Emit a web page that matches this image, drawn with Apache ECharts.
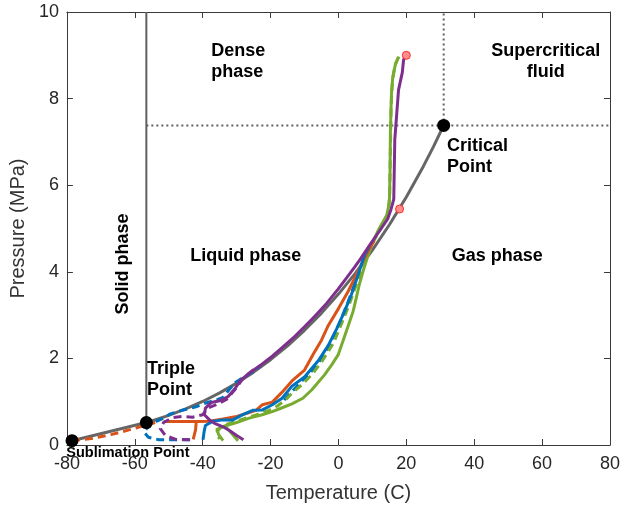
<!DOCTYPE html>
<html>
<head>
<meta charset="utf-8">
<script src="https://cdn.jsdelivr.net/npm/echarts@6/dist/echarts.min.js"></script>
<style>
  html, body { margin: 0; padding: 0; background: #fff; }
  #chart { width: 623px; height: 508px; }
</style>
</head>
<body>
<div id="chart"></div>
<script>
// CO2 phase boundaries (temperature in C, pressure in MPa)
const satT = [-78.5, -56.6, -55, -50, -45, -40, -35, -30, -25, -20, -15, -10, -5, 0, 5, 10, 15, 20, 25, 28, 31];
const satP = [0.10, 0.518, 0.555, 0.683, 0.833, 1.005, 1.203, 1.428, 1.683, 1.970, 2.290, 2.649, 3.046, 3.485, 3.969, 4.502, 5.086, 5.729, 6.434, 6.89, 7.38];
const triple = [-56.6, 0.518];
const critical = [31.0, 7.38];
const sublimation = [-78.5, 0.10];
const keyPoints = [sublimation, triple, critical];
const initialStates = [[18, 5.45], [20, 9.0]];

// Measured / simulated trajectories [T, P]
const purpleSolid = [[19.8,8.99],[19.2,8.9],[18.8,8.6],[17.7,8.2],[16.6,7.06],[16.3,5.68],[15.4,5.42],[14.5,5.22],[12,4.93],[9.6,4.66],[6.5,4.30],[4.7,4.10],[2,3.82],[-0.1,3.60],[-3.5,3.27],[-6.9,2.98],[-10,2.73],[-13,2.50],[-16.6,2.25],[-20,2.02],[-23,1.84],[-26.3,1.66],[-29,1.48],[-30.5,1.30],[-32.5,1.12],[-35,1.02],[-37.5,0.98],[-39.2,0.85],[-39.5,0.70],[-38,0.58],[-36.5,0.50],[-34,0.42],[-32,0.33],[-30,0.22],[-28,0.12]];
const purpleDashed = [[-25,1.74],[-28,1.55],[-30.5,1.28],[-33,1.05],[-36,0.93],[-38.5,0.85],[-40,0.7],[-43,0.64],[-46,0.66],[-49,0.63],[-51.5,0.52],[-52.5,0.38],[-51,0.22],[-48,0.13],[-43,0.12]];
const greenSolid = [[17.8,8.97],[16.8,8.8],[16.0,8.5],[15.6,8.1],[15.3,7.2],[15.2,6.3],[15.0,5.6],[14.2,5.3],[12,5.0],[10.1,4.69],[8.6,4.35],[7.2,4.0],[6.1,3.69],[5.2,3.38],[4.3,3.08],[2.3,2.62],[-0.1,2.08],[-2,1.85],[-4.1,1.62],[-7.9,1.27],[-10.5,1.08],[-13.7,0.95],[-16.6,0.86],[-19.5,0.77],[-22.5,0.70],[-26.3,0.62],[-30,0.52],[-33.5,0.44],[-35.8,0.36],[-35.3,0.24],[-34,0.1]];
const greenFoot = [[-33.5,0.44],[-31.8,0.3],[-29.6,0.1]];
const greenDashed = [[17.6,8.95],[16.6,8.75],[15.9,8.4],[15.5,7.8],[15.3,6.8],[15.1,5.8],[14.6,5.35],[12.5,5.02],[10.2,4.68],[8.4,4.38],[6.8,4.05],[5.0,3.65],[3.2,3.25],[1.0,2.82],[-1.5,2.35],[-4.95,1.92],[-7.9,1.62],[-10.8,1.39],[-13.7,1.2],[-15.6,1.04],[-18,0.9],[-20.5,0.8],[-24,0.7],[-28,0.6],[-31,0.53],[-33.5,0.46],[-35,0.38],[-36,0.28],[-35,0.14]];
const orangeSolid = [[-41.9,0.54],[-38,0.55],[-34,0.6],[-30,0.66],[-27,0.73],[-24.3,0.8],[-22.4,0.93],[-19.5,0.99],[-16.6,1.22],[-13.7,1.48],[-10,1.73],[-7.4,2.10],[-5,2.42],[-3,2.76],[0,3.15],[2.8,3.54],[5.7,4.0],[7.6,4.3],[9,4.52],[10.5,4.72]];
const orangeFoot = [[-51.5,0.54],[-41.9,0.54],[-42.1,0.35],[-42.8,0.13]];
const orangeDashed = [[-78.5,0.10],[-72.8,0.15],[-67,0.24],[-61.2,0.36],[-56.6,0.46],[-54,0.52]];
const blueSolid = [[-39.9,0.12],[-39.6,0.3],[-39.2,0.45],[-37,0.55],[-34,0.58],[-31.1,0.58],[-28.2,0.70],[-25.3,0.80],[-22.4,0.81],[-19.5,0.93],[-16.6,1.08],[-13.7,1.36],[-10,1.57],[-5.9,1.95],[-3,2.3],[-0.6,2.67],[1.7,3.07],[3.8,3.47],[5.7,3.91],[7.6,4.37],[9,4.58]];
const blueDashedA = [[-43.7,0.12],[-47.7,0.12],[-52.9,0.12],[-56,0.18],[-57.3,0.3],[-55.5,0.48],[-51.5,0.62],[-49.5,0.72],[-45.7,0.81],[-42,0.88],[-39.9,0.95],[-36,1.04],[-34,1.1],[-32,1.3],[-30.3,1.45],[-26.3,1.64],[-23,1.82]];
const blueDashedB = [[-16,1.04],[-12,1.38],[-8,1.7],[-4.5,2.05],[-2,2.42],[0.5,2.85],[2.8,3.3],[4.6,3.68],[6.4,4.06],[8,4.42]];

// Region annotations: text, anchor T, anchor P
const noteText = ['Dense\nphase', 'Supercritical\nfluid', 'Critical\nPoint', 'Solid phase', 'Liquid phase', 'Gas phase', 'Triple\nPoint', 'Sublimation Point'];
const noteT = [-37.5, 61.1, 32, -63.4, -27.3, 46.8, -56.4, -80.2];
const noteP = [8.85, 8.85, 6.67, 4.18, 4.37, 4.37, 1.52, -0.19];

const xTicks = { min: -80, max: 80, interval: 20 };
const yTicks = { min: 0, max: 10, interval: 2 };

const BLUE = '#0072BD', ORANGE = '#D95319', GREEN = '#77AC30', PURPLE = '#7E2F8E';
const FONT = '"Liberation Sans", Arial, Helvetica, sans-serif';

function path(data, color, dashed, width, z) {
  return {
    type: 'line', data: data, symbol: 'none', showSymbol: false, z: z || 3,
    silent: true, animation: false,
    lineStyle: { color: color, width: width || 3, type: dashed ? [8, 5] : 'solid', cap: 'butt', join: 'round' }
  };
}

function dotted(data) {
  const s = path(data, '#606060', false, 2, 1);
  s.lineStyle.type = [2, 3];
  return s;
}

const satCurve = satT.map((t, i) => [t, satP[i]]);

const noteStyle = [
  { align: 'left' }, { align: 'center' }, { align: 'left' }, { align: 'center', rotate: 90 },
  { align: 'center' }, { align: 'center' }, { align: 'left' }, { align: 'left', fontSize: 14.5 }
];
const noteData = noteText.map((txt, i) => ({
  value: [noteT[i], noteP[i]],
  label: Object.assign({
    show: true, formatter: txt, position: 'inside', verticalAlign: 'middle',
    fontFamily: FONT, fontWeight: 'bold', fontSize: 18, lineHeight: 21, color: '#000'
  }, noteStyle[i])
}));

const axisBase = {
  type: 'value',
  axisLine: { show: true, onZero: false, lineStyle: { color: '#3a3a3a', width: 1 } },
  axisTick: { show: true, inside: true, length: 6, lineStyle: { color: '#3a3a3a' } },
  splitLine: { show: false }
};

const chart = echarts.init(document.getElementById('chart'), null, { renderer: 'canvas' });
chart.setOption({
  animation: false,
  backgroundColor: '#fff',
  grid: { left: 62, top: 12, width: 550, height: 435 },
  xAxis: [
    Object.assign({}, axisBase, xTicks, {
      position: 'bottom', name: 'Temperature (C)', nameLocation: 'middle', nameGap: 38,
      nameTextStyle: { fontFamily: FONT, fontSize: 20, color: '#333' },
      axisLabel: { fontFamily: FONT, fontSize: 18, color: '#262626', margin: 10 }
    }),
    Object.assign({}, axisBase, xTicks, { position: 'top', axisLabel: { show: false } })
  ],
  yAxis: [
    Object.assign({}, axisBase, yTicks, {
      position: 'left', name: 'Pressure (MPa)', nameLocation: 'middle', nameGap: 38,
      nameTextStyle: { fontFamily: FONT, fontSize: 20, color: '#333' },
      axisLabel: { fontFamily: FONT, fontSize: 18, color: '#262626', margin: 8 }
    }),
    Object.assign({}, axisBase, yTicks, { position: 'right', axisLabel: { show: false } })
  ],
  series: [
    // phase boundaries
    path([triple, [triple[0], 10]], '#606060', false, 2, 1),
    dotted([[triple[0], critical[1]], [80, critical[1]]]),
    dotted([critical, [critical[0], 10]]),
    path(satCurve, '#666666', false, 3, 2),
    // trajectories
    path(orangeDashed, ORANGE, true),
    path(blueDashedA, BLUE, true),
    path(blueDashedB, BLUE, true),
    path(greenSolid, GREEN, false),
    path(greenFoot, GREEN, false),
    path(greenDashed, GREEN, true),
    path(orangeSolid, ORANGE, false),
    path(orangeFoot, ORANGE, false),
    path(blueSolid, BLUE, false),
    path(purpleDashed, PURPLE, true),
    path(purpleSolid, PURPLE, false),
    {
      type: 'scatter', data: initialStates, symbol: 'circle', symbolSize: 8, z: 6, silent: true,
      itemStyle: { color: '#ff8f8f', borderColor: '#ff2a2a', borderWidth: 1, opacity: 1 }
    },
    {
      type: 'scatter', data: keyPoints, symbol: 'circle', symbolSize: 13, z: 7, silent: true,
      itemStyle: { color: '#000', opacity: 1 }
    },
    {
      type: 'scatter', data: noteData, symbolSize: 0, z: 8, silent: true, clip: false,
      itemStyle: { opacity: 1 }
    }
  ]
});
</script>
</body>
</html>
